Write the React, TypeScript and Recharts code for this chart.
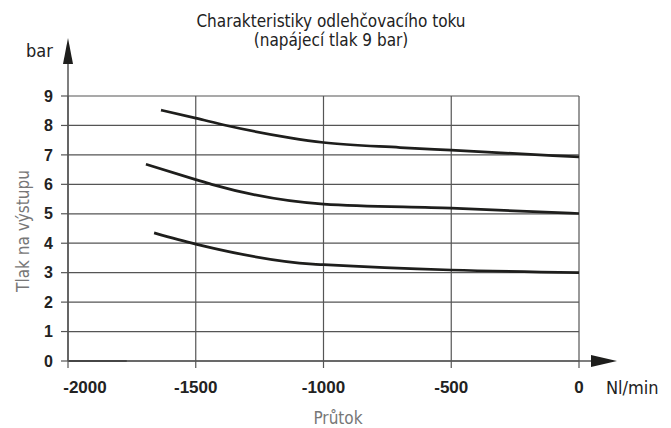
import React from "react";
import { LineChart, Line, XAxis, YAxis, CartesianGrid } from "recharts";

type Pt = { q: number; p: number }; // q = průtok [Nl/min], p = tlak [bar]

const xTicks = [-2000, -1500, -1000, -500, 0];
const yTicks = [0, 1, 2, 3, 4, 5, 6, 7, 8, 9];

// charakteristiky
const curveHigh: Pt[] = [
  { q: -1636, p: 8.52 },
  { q: -1500, p: 8.25 },
  { q: -1380, p: 8.0 },
  { q: -1130, p: 7.58 },
  { q: -1000, p: 7.42 },
  { q: -700, p: 7.25 },
  { q: -500, p: 7.16 },
  { q: 0, p: 6.93 },
];

const curveMid: Pt[] = [
  { q: -1695, p: 6.68 },
  { q: -1500, p: 6.16 },
  { q: -1438, p: 6.0 },
  { q: -1000, p: 5.33 },
  { q: -500, p: 5.19 },
  { q: 0, p: 5.01 },
];

const curveLow: Pt[] = [
  { q: -1663, p: 4.35 },
  { q: -1500, p: 3.97 },
  { q: -1042, p: 3.29 },
  { q: -1000, p: 3.27 },
  { q: -500, p: 3.09 },
  { q: 0, p: 3.0 },
];

const baseStub: Pt[] = [
  { q: -2000, p: 0 },
  { q: -1770, p: 0 },
];

const INK = "#1e1e1c";
const TICK_FONT = "'Liberation Sans', Arial, sans-serif";
const DIN_FONT = "'Liberation Sans Narrow', 'DejaVu Sans Condensed', 'Roboto', sans-serif";

const XTick = (props: any) => {
  const { x, y, payload } = props;
  // první popisek je v originále posunutý doprava od osy Y
  const dx = payload.value === -2000 ? 17 : 0;
  return (
    <text
      x={x + dx}
      y={y}
      dy="0.71em"
      textAnchor="middle"
      fontFamily={TICK_FONT}
      fontWeight="bold"
      fontSize={17}
      fill="#222"
    >
      {payload.value}
    </text>
  );
};

const YTick = (props: any) => {
  const { x, y, payload } = props;
  return (
    <text
      x={x}
      y={y}
      dy="0.355em"
      textAnchor="end"
      fontFamily={TICK_FONT}
      fontWeight="bold"
      fontSize={16}
      fill="#222"
    >
      {payload.value}
    </text>
  );
};

export default function App() {
  const series = [curveHigh, curveMid, curveLow];
  return (
    <div style={{ position: "absolute", left: 0, top: 0, width: 671, height: 428, background: "#fff" }}>
      <LineChart
        width={671}
        height={428}
        margin={{ top: 96, right: 92, bottom: 0, left: 0 }}
      >
        <CartesianGrid stroke="#555" strokeWidth={1.2} />
        <XAxis
          dataKey="q"
          type="number"
          domain={[-2000, 0]}
          ticks={xTicks}
          allowDuplicatedCategory={false}
          height={67}
          tickSize={7}
          tickMargin={13}
          axisLine={{ stroke: "#555", strokeWidth: 1.5 }}
          tickLine={{ stroke: "#555", strokeWidth: 1.2 }}
          tick={<XTick />}
          interval={0}
        />
        <YAxis
          dataKey="p"
          type="number"
          domain={[0, 9]}
          ticks={yTicks}
          width={68}
          tickSize={7}
          tickMargin={8}
          axisLine={{ stroke: "#555", strokeWidth: 1.5 }}
          tickLine={{ stroke: "#555", strokeWidth: 1.2 }}
          tick={<YTick />}
          interval={0}
        />
        {series.map((d, i) => (
          <Line
            key={i}
            data={d}
            dataKey="p"
            type="monotone"
            stroke={INK}
            strokeWidth={2.7}
            dot={false}
            activeDot={false}
            isAnimationActive={false}
          />
        ))}
        <Line
          data={baseStub}
          dataKey="p"
          type="linear"
          stroke={INK}
          strokeWidth={2}
          dot={false}
          activeDot={false}
          isAnimationActive={false}
        />
      </LineChart>

      <svg
        width={671}
        height={428}
        style={{ position: "absolute", left: 0, top: 0, pointerEvents: "none" }}
      >
        {/* prodloužení os se šipkami */}
        <line x1={68} y1={96} x2={68} y2={60} stroke="#555" strokeWidth={1.5} />
        <polygon points="68,38 63,64 73,64" fill={INK} />
        <line x1={579} y1={361} x2={594} y2={361} stroke="#555" strokeWidth={1.5} />
        <polygon points="617,361 591,355 591,367" fill={INK} />

        <text x={331} y={27} textAnchor="middle" fontFamily={DIN_FONT} fontSize={17} fill="#222">
          Charakteristiky odlehčovacího toku
        </text>
        <text x={331} y={46} textAnchor="middle" fontFamily={DIN_FONT} fontSize={17} fill="#222">
          (napájecí tlak 9 bar)
        </text>
        <text x={26} y={57} fontFamily={DIN_FONT} fontSize={18} fill="#222">
          bar
        </text>
        <text x={606} y={394} fontFamily={DIN_FONT} fontSize={18} fill="#222">
          Nl/min
        </text>
        <text x={338} y={424} textAnchor="middle" fontFamily={DIN_FONT} fontSize={17} fill="#777">
          Průtok
        </text>
        <text
          x={29}
          y={231}
          textAnchor="middle"
          transform="rotate(-90 29 231)"
          fontFamily={DIN_FONT}
          fontSize={17}
          fill="#777"
        >
          Tlak na výstupu
        </text>
      </svg>
    </div>
  );
}
